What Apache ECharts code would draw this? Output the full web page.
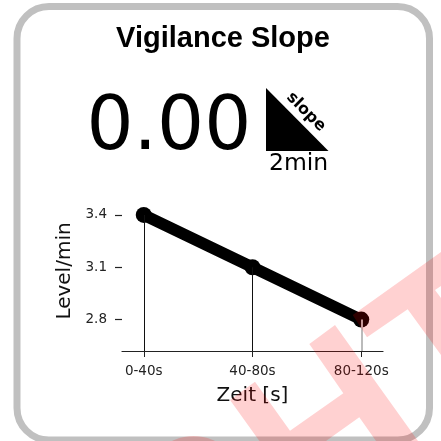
<!DOCTYPE html>
<html>
<head>
<meta charset="utf-8">
<style>html,body{margin:0;padding:0;background:#fff}#main{width:441px;height:441px}</style>
<script src="https://cdn.jsdelivr.net/npm/echarts@6/dist/echarts.min.js"></script>
</head>
<body>
<div id="main"></div>
<script>
var categories = ['0-40s', '40-80s', '80-120s'];
var levelValues = [3.4, 3.1, 2.8];
var yTicks = [2.8, 3.1, 3.4];
var xTicks = [0, 1, 2];
var titleText = 'Vigilance Slope';
var bigNumber = '0.00';
var dejavu = '"DejaVu Sans", sans-serif';
var yMin = 2.62;
var pink = 'rgba(255,0,0,0.18)';

var chart = echarts.init(document.getElementById('main'), null, {renderer: 'canvas'});
//竖线：最后一条在参考图里偏灰
var dropColors = ['#111', '#111', '#bbb'];
var dropWidths = [1, 1, 2];
var option = {
    animation: false,
    backgroundColor: '#fff',
    grid: {left: 122, right: 58, top: 201, bottom: 90},
    xAxis: {
        type: 'value', min: -0.2, max: 2.2,
        name: 'Zeit [s]', nameLocation: 'middle', nameGap: 35,
        nameTextStyle: {fontFamily: dejavu, fontSize: 20, color: '#111'},
        axisLine: {onZero: false, lineStyle: {color: '#222', width: 1.2}},
        axisTick: {show: true, length: 6, customValues: xTicks, lineStyle: {color: '#222', width: 1}},
        axisLabel: {
            fontFamily: dejavu, fontSize: 13.5, color: '#222', margin: 13,
            customValues: xTicks, hideOverlap: false,
            formatter: function (v) { return categories[v]; }
        },
        splitLine: {show: false}
    },
    yAxis: {
        type: 'value', min: yMin, max: 3.48,
        name: 'Level/min', nameLocation: 'middle', nameGap: 39,
        nameTextStyle: {fontFamily: dejavu, fontSize: 20, color: '#111', padding: [0, 0, 0, 10]},
        axisLine: {show: false, onZero: false},
        axisTick: {show: true, length: 7, customValues: yTicks, lineStyle: {color: '#222', width: 1.2}},
        axisLabel: {
            fontFamily: dejavu, fontSize: 13.5, color: '#222', margin: 15, customValues: yTicks,
            formatter: function (v) { return v.toFixed(1); }
        },
        splitLine: {show: false}
    },
    series: [{
        type: 'line',
        data: levelValues.map(function (v, i) { return [i, v]; }),
        symbol: 'circle', symbolSize: 16,
        lineStyle: {color: '#000', width: 11.5, cap: 'butt'},
        itemStyle: {color: '#000'},
        markLine: {
            silent: true, symbol: 'none', label: {show: false},
            lineStyle: {type: 'solid'},
            data: levelValues.map(function (v, i) {
                return [{coord: [i, v], lineStyle: {color: dropColors[i], width: dropWidths[i]}}, {coord: [i, yMin]}];
            })
        }
    }],
    graphic: [
        {type: 'rect', z: 0, shape: {x: 17, y: 6.5, width: 412.5, height: 433.5, r: 32}, style: {fill: 'none', stroke: '#c0c0c0', lineWidth: 7}},
        {type: 'text', z: 5, x: 223, y: 39, style: {text: titleText, fontFamily: '"Liberation Sans", sans-serif', fontWeight: 'bold', fontSize: 29, fill: '#000', align: 'center', verticalAlign: 'middle'}},
        {type: 'text', z: 5, x: 86.5, y: 130, style: {text: bigNumber, fontFamily: dejavu, fontSize: 74, fill: '#000', align: 'left', verticalAlign: 'middle'}},
        {type: 'polygon', z: 5, shape: {points: [[266, 88], [266, 151], [328.5, 151]]}, style: {fill: '#000'}},
        {type: 'text', z: 6, x: 306, y: 112, rotation: -Math.PI / 4, style: {text: 'slope', fontFamily: dejavu, fontWeight: 'bold', fontSize: 16, fill: '#000', align: 'center', verticalAlign: 'middle'}},
        {type: 'text', z: 5, x: 269, y: 164, style: {text: '2min', fontFamily: dejavu, fontSize: 23.5, fill: '#000', align: 'left', verticalAlign: 'middle'}},
        //水印碎片
        {type: 'polygon', z: 100, shape: {points: [[352.7, 315], [441, 252], [441, 286], [435, 290], [441, 298], [441, 355], [407.7, 309.3], [367, 337.3]]}, style: {fill: pink}},
        {type: 'polygon', z: 100, shape: {points: [[230, 400], [255, 381.7], [290, 430.7], [343.3, 393.3], [309.3, 344], [335, 325], [418, 441], [376, 441], [359.3, 417.3], [326, 441], [259.4, 441]]}, style: {fill: pink}},
        {type: 'circle', z: 100, shape: {cx: 193.5, cy: 484.7, r: 48.7}, style: {fill: pink}}
    ]
};
chart.setOption(option);
</script>
</body>
</html>
